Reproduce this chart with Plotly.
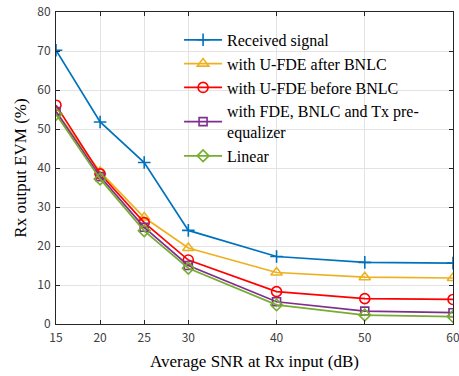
import plotly.graph_objects as go

snr = [15, 20, 25, 30, 40, 50, 60]
received = [70.2, 51.8, 41.4, 24.0, 17.3, 15.8, 15.6]
ufde_after = [54.5, 39.0, 27.3, 19.5, 13.2, 12.0, 11.8]
ufde_before = [56.1, 38.5, 26.0, 16.4, 8.3, 6.5, 6.3]
fde_bnlc_tx = [54.5, 37.8, 24.8, 15.0, 5.7, 3.3, 2.9]
linear = [53.8, 37.2, 23.9, 14.3, 4.9, 2.3, 1.9]

x_ticks = [15, 20, 25, 30, 40, 50, 60]
y_ticks = [0, 10, 20, 30, 40, 50, 60, 70, 80]

series = [
    ("Received signal", received, "#0072BD", "cross-thin-open", 9),
    ("with U-FDE after BNLC", ufde_after, "#EDB120", "triangle-up-open", 10),
    ("with U-FDE before BNLC", ufde_before, "#FF0000", "circle-open", 10),
    ("with FDE, BNLC and Tx pre-<br>equalizer", fde_bnlc_tx, "#7E2F8E", "square-open", 8),
    ("Linear", linear, "#77AC30", "diamond-open", 9),
]

fig = go.Figure()
for name, vals, color, sym, size in series:
    fig.add_trace(go.Scatter(
        x=snr, y=vals, name=name, mode="lines+markers",
        line=dict(color=color, width=1.7),
        marker=dict(symbol=sym, size=size, color=color, line=dict(color=color, width=1.6)),
    ))

axis_common = dict(
    showgrid=True, gridcolor="#e3e3e3", gridwidth=1,
    showline=True, linecolor="#262626", linewidth=1,
    mirror="allticks", ticks="inside", ticklen=4, tickcolor="#262626",
    zeroline=False, automargin=False, ticklabeloverflow="allow",
    tickfont=dict(family="Noto Sans CJK JP, DejaVu Sans, sans-serif", size=12, color="#404040"),
)

fig.update_layout(
    width=459, height=376,
    margin=dict(l=56, r=6, t=12, b=52),
    paper_bgcolor="white", plot_bgcolor="white",
    xaxis=dict(range=[15, 60], tickvals=x_ticks, ticklabelstandoff=3,
               title=dict(text="Average SNR at Rx input (dB)",
                          font=dict(family="Liberation Serif, Times New Roman, serif", size=17, color="#000"),
                          standoff=10),
               **axis_common),
    yaxis=dict(range=[0, 80], tickvals=y_ticks, ticklabelstandoff=2,
               title=dict(text="Rx output EVM (%)",
                          font=dict(family="Liberation Serif, Times New Roman, serif", size=17, color="#000"),
                          standoff=6),
               **axis_common),
    legend=dict(x=0.31, y=0.965, xanchor="left", yanchor="top",
                bgcolor="rgba(0,0,0,0)", borderwidth=0,
                font=dict(family="Liberation Serif, Times New Roman, serif", size=16, color="#000"),
                tracegroupgap=0, itemwidth=38),
    showlegend=True,
)

fig.write_html("out.html",
               config={"displayModeBar": False},
               post_script="document.body.style.margin='0';document.body.style.overflow='hidden';")
